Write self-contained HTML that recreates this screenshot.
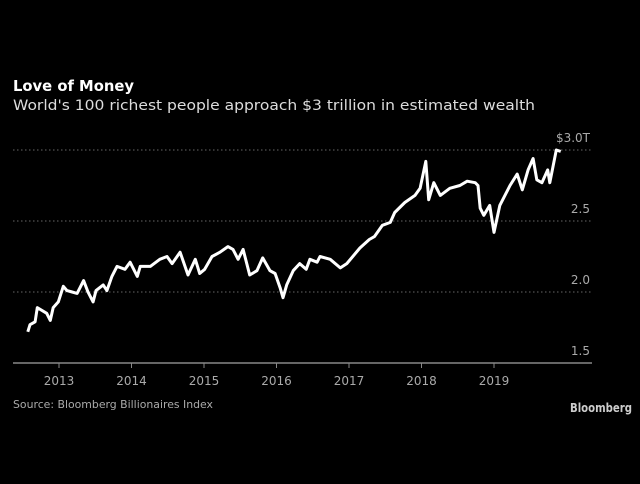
<!DOCTYPE html>
<html><head><meta charset="utf-8"><style>
body{margin:0;background:#000;width:640px;height:480px;overflow:hidden;font-family:"DejaVu Sans","Liberation Sans",sans-serif}
</style></head><body>
<svg width="640" height="480" font-family="DejaVu Sans, Liberation Sans, sans-serif">
<text x="13" y="91" fill="#fff" font-size="15" font-weight="bold" textLength="121" lengthAdjust="spacingAndGlyphs">Love of Money</text>
<text x="13" y="110" fill="#ddd" font-size="14" textLength="522" lengthAdjust="spacingAndGlyphs">World's 100 richest people approach $3 trillion in estimated wealth</text>
<g id="grid"></g><g id="xaxis"></g>
<path id="line" fill="none" stroke="#fff" stroke-width="3" stroke-linejoin="round"/>
<text x="13" y="408" fill="#aaa" font-size="11" textLength="200" lengthAdjust="spacingAndGlyphs">Source: Bloomberg Billionaires Index</text>
<text x="632" y="412" fill="#ccc" font-size="12" font-weight="bold" text-anchor="end" textLength="62" lengthAdjust="spacingAndGlyphs">Bloomberg</text>
</svg>
<script>
const dates=[2012.57,2012.60,2012.67,2012.70,2012.83,2012.88,2012.92,2012.99,2013.06,2013.11,2013.18,2013.25,2013.34,2013.40,2013.47,2013.51,2013.61,2013.66,2013.73,2013.80,2013.91,2013.98,2014.08,2014.12,2014.26,2014.39,2014.49,2014.56,2014.67,2014.78,2014.88,2014.94,2015.01,2015.11,2015.22,2015.33,2015.40,2015.47,2015.54,2015.63,2015.73,2015.81,2015.91,2015.98,2016.05,2016.09,2016.14,2016.23,2016.32,2016.41,2016.46,2016.56,2016.60,2016.74,2016.88,2016.97,2017.15,2017.28,2017.35,2017.46,2017.57,2017.63,2017.77,2017.91,2017.98,2018.06,2018.10,2018.17,2018.26,2018.39,2018.53,2018.63,2018.74,2018.78,2018.81,2018.86,2018.94,2019.00,2019.08,2019.22,2019.32,2019.39,2019.47,2019.54,2019.59,2019.66,2019.74,2019.77,2019.86,2019.92];
const values=[1.72,1.77,1.79,1.89,1.85,1.80,1.89,1.93,2.04,2.01,2.00,1.99,2.08,2.00,1.93,2.01,2.05,2.01,2.11,2.18,2.16,2.21,2.11,2.18,2.18,2.23,2.25,2.20,2.28,2.12,2.23,2.13,2.16,2.25,2.28,2.32,2.30,2.23,2.30,2.12,2.15,2.24,2.15,2.13,2.03,1.96,2.05,2.15,2.20,2.16,2.23,2.21,2.25,2.23,2.17,2.20,2.31,2.37,2.39,2.47,2.49,2.56,2.63,2.68,2.73,2.92,2.65,2.77,2.68,2.73,2.75,2.78,2.77,2.75,2.59,2.54,2.61,2.42,2.61,2.75,2.83,2.72,2.86,2.94,2.79,2.77,2.86,2.77,3.00,2.99];
const yTicks=[1.5,2.0,2.5,3.0];
const yLabels=["1.5","2.0","2.5","$3.0T"];
const xTicks=[2013,2014,2015,2016,2017,2018,2019];
const NS="http://www.w3.org/2000/svg";
const X=t=>59+(t-2013)*72.5, Y=v=>363-(v-1.5)*142;
const grid=document.getElementById('grid'), xa=document.getElementById('xaxis');
function mk(tag,attrs,parent){const e=document.createElementNS(NS,tag);for(const k in attrs)e.setAttribute(k,attrs[k]);parent.appendChild(e);return e;}
yTicks.forEach((v,i)=>{
  const l=mk('line',{x1:13,x2:592,y1:Y(v),y2:Y(v),stroke:i===0?'#888':'#666','stroke-width':i===0?1.5:1,'stroke-dasharray':i===0?'none':'1.5 2.5'},grid);
  
  
  const t=mk('text',{x:590,y:Y(v)-8,fill:'#aaa','font-size':12,'text-anchor':'end'},grid);
  t.textContent=yLabels[i];
  
  
});
xTicks.forEach(y=>{
  const l=mk('line',{x1:X(y),x2:X(y),y1:363,y2:368,stroke:'#888'},xa);
  
  
  const t=mk('text',{x:X(y),y:385,fill:'#aaa','font-size':12,'text-anchor':'middle'},xa);
  t.textContent=y;
  
  
});
document.getElementById('line').setAttribute('d',dates.map((d,i)=>(i?'L':'M')+X(d).toFixed(1)+','+Y(values[i]).toFixed(1)).join(''));
</script>
</body></html>
